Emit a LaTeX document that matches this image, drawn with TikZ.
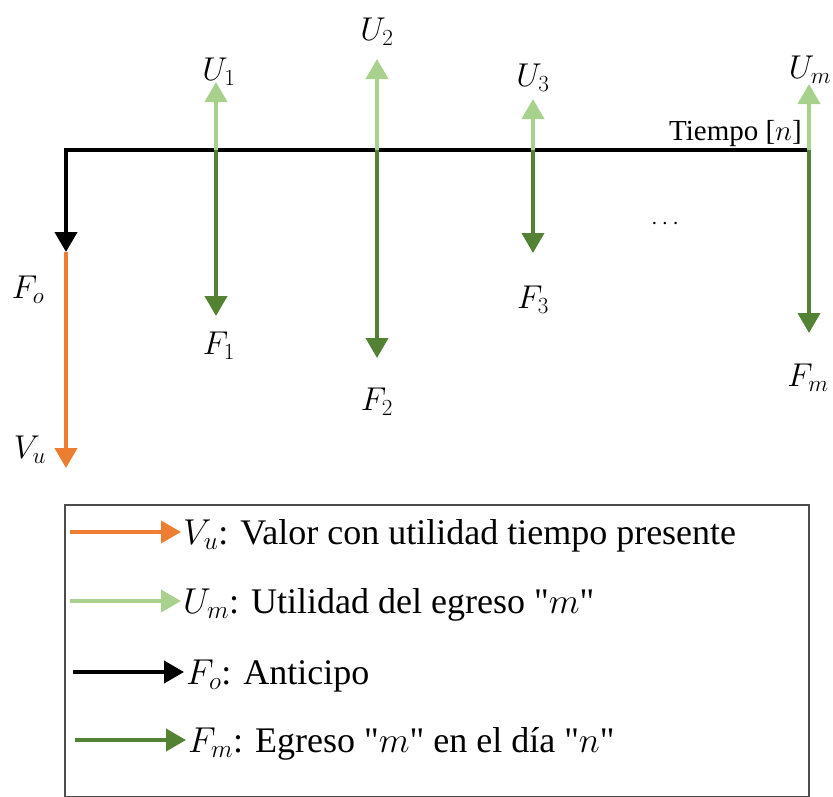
\RequirePackage{fix-cm}
\documentclass[tikz,border=0pt]{standalone}
\usepackage{fontspec}
\setmainfont{Liberation Serif}[Ligatures=TeXOff]
\usetikzlibrary{arrows.meta}
\definecolor{corange}{HTML}{ED7D31}
\definecolor{clight}{HTML}{A9D18E}
\definecolor{cdark}{HTML}{548235}
\tikzset{
  arr/.style={line width=4pt,-{Triangle[length=20pt,width=22pt]}},
  lbl/.style={inner sep=0pt,font=\fontsize{33}{39}\selectfont},
  leg/.style={inner sep=0pt,anchor=base west,font=\fontsize{36}{43}\selectfont},
}
\begin{document}
\begin{tikzpicture}[x=1pt,y=-1pt]
\useasboundingbox (0,0) rectangle (833,796);
% coordinates
\coordinate (L) at (66,150);
\coordinate (R) at (808,150);
\coordinate (Ft) at (66,252);
\coordinate (Vt) at (66,468);
\coordinate (t1) at (216,150); \coordinate (u1) at (216,82); \coordinate (f1) at (216,316);
\coordinate (t2) at (377,150); \coordinate (u2) at (377,59); \coordinate (f2) at (377,358);
\coordinate (t3) at (533,150); \coordinate (u3) at (533,99); \coordinate (f3) at (533,253);
\coordinate (tm) at (809,150); \coordinate (um) at (809,84); \coordinate (fm) at (809,333);
% arrows
\draw[arr,corange] (Ft) -- (Vt);
\draw[arr,black,line join=miter] (R) -- (L) -- (Ft);
\draw[arr,clight] (t1) -- (u1);
\draw[arr,cdark] (t1) -- (f1);
\draw[arr,clight] (t2) -- (u2);
\draw[arr,cdark] (t2) -- (f2);
\draw[arr,clight] (t3) -- (u3);
\draw[arr,cdark] (t3) -- (f3);
\draw[arr,clight] (tm) -- (um);
\draw[arr,cdark] (tm) -- (fm);
% labels
\node[lbl] (lFo) at (28,290) {$F_o$};
\node[lbl] (lVu) at (30,450) {$V_u$};
\node[lbl] (lU1) at (219,72) {$U_1$};
\node[lbl] (lF1) at (219,346) {$F_1$};
\node[lbl] (lU2) at (377,32) {$U_2$};
\node[lbl] (lF2) at (377,402) {$F_2$};
\node[lbl] (lU3) at (533,78) {$U_3$};
\node[lbl] (lF3) at (533,300) {$F_3$};
\node[lbl] (lUm) at (810,70) {$U_m$};
\node[lbl] (lFm) at (808,378) {$F_m$};
\node[inner sep=0pt,anchor=base east,font=\fontsize{29}{34}\selectfont] (tiempo) at (802,140) {Tiempo [$n$]};
\node[inner sep=0pt,font=\fontsize{24}{28}\selectfont] (dots) at (665,224) {$\cdots$};
% legend
\draw[draw=black!70,line width=1.8pt] (65,505) rectangle (809,797);
\coordinate (a1) at (70,532); \coordinate (b1) at (181,532);
\coordinate (a2) at (70,601); \coordinate (b2) at (181,601);
\coordinate (a3) at (73,672); \coordinate (b3) at (184,672);
\coordinate (a4) at (75,740); \coordinate (b4) at (186,740);
\draw[arr,corange] (a1) -- (b1);
\draw[arr,clight] (a2) -- (b2);
\draw[arr,black] (a3) -- (b3);
\draw[arr,cdark] (a4) -- (b4);
\node[leg] (t1l) at (183,544) {$V_u$: Valor con utilidad tiempo presente};
\node[leg] (t2l) at (183,613) {$U_m$: Utilidad del egreso "$m$"};
\node[leg] (t3l) at (186,684) {$F_o$: Anticipo};
\node[leg] (t4l) at (188,752) {$F_m$: Egreso "$m$" en el día "$n$"};
\end{tikzpicture}
\end{document}
